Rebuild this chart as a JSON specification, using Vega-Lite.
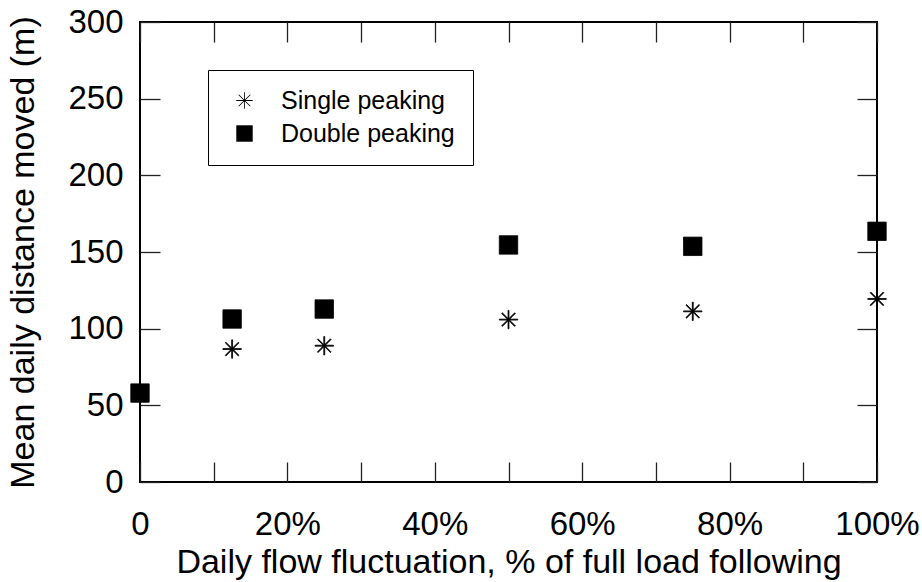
{
  "$schema": "https://vega.github.io/schema/vega-lite/v6.json",
  "width": 737,
  "height": 460,
  "autosize": "none",
  "padding": {"left": 140, "top": 22, "right": 45, "bottom": 100},
  "background": "white",
  "config": {
    "font": "Liberation Sans",
    "view": {"stroke": "black", "strokeWidth": 2},
    "axis": {"domain": false, "grid": false, "tickColor": "#222", "tickWidth": 1.3, "labelColor": "black", "titleColor": "black", "labelFont": "Liberation Sans", "titleFont": "Liberation Sans", "titleFontWeight": "normal", "labelFlush": false, "labelBound": false}
  },
  "data": {
    "values": [
      {"pct": 12.5, "dist": 86.7, "series": "Single peaking"},
      {"pct": 25, "dist": 88.9, "series": "Single peaking"},
      {"pct": 50, "dist": 105.9, "series": "Single peaking"},
      {"pct": 75, "dist": 111.3, "series": "Single peaking"},
      {"pct": 100, "dist": 119.4, "series": "Single peaking"},
      {"pct": 0, "dist": 58, "series": "Double peaking"},
      {"pct": 12.5, "dist": 106.3, "series": "Double peaking"},
      {"pct": 25, "dist": 112.8, "series": "Double peaking"},
      {"pct": 50, "dist": 154.6, "series": "Double peaking"},
      {"pct": 75, "dist": 153.7, "series": "Double peaking"},
      {"pct": 100, "dist": 163.5, "series": "Double peaking"}
    ]
  },
  "resolve": {"axis": {"x": "independent", "y": "independent"}},
  "layer": [
    {
      "mark": {"type": "point", "filled": true, "color": "black", "stroke": "black", "strokeWidth": 0.8, "size": 340, "opacity": 1, "clip": false},
      "encoding": {
        "x": {
          "field": "pct", "type": "quantitative",
          "scale": {"domain": [0, 100], "nice": false},
          "axis": {"orient": "bottom", "values": [0, 10, 20, 30, 40, 50, 60, 70, 80, 90, 100], "tickSize": -20, "labelPadding": 46, "labelFontSize": 33, "labelExpr": "datum.value % 20 == 0 ? (datum.value == 0 ? '0' : datum.value + '%') : ''", "title": "Daily flow fluctuation, % of full load following", "titleFontSize": 34, "titlePadding": 4, "labelOverlap": false}
        },
        "y": {
          "field": "dist", "type": "quantitative",
          "scale": {"domain": [0, 300], "nice": false},
          "axis": {"orient": "left", "values": [0, 50, 100, 150, 200, 250, 300], "tickSize": -20, "labelPadding": 37, "labelFontSize": 33, "title": "Mean daily distance moved (m)", "titleFontSize": 34, "titlePadding": 27, "labelOverlap": false}
        },
        "shape": {
          "field": "series", "type": "nominal",
          "scale": {"domain": ["Single peaking", "Double peaking"], "range": ["M-0.05,-1L0.05,-1L0.05,1L-0.05,1ZM-1,-0.05L1,-0.05L1,0.05L-1,0.05ZM0.6718,-0.7425L0.7425,-0.6718L-0.6718,0.7425L-0.7425,0.6718ZM-0.7425,-0.6718L-0.6718,-0.7425L0.7425,0.6718L0.6718,0.7425Z", "square"]},
          "legend": {
            "title": null, "orient": "none", "legendX": 68, "legendY": 48, "strokeColor": "black", "padding": 18, "symbolOffset": 6, "labelFontSize": 25, "labelOffset": 24, "labelLimit": 400, "rowPadding": 7, "symbolSize": 270, "symbolFillColor": "black", "symbolStrokeColor": "black", "symbolStrokeWidth": 0.8, "labelColor": "black", "fillColor": "white",
            "encode": {"symbols": {"update": {"stroke": {"value": "black"}, "strokeWidth": {"value": 0.8}, "fill": {"value": "black"}, "opacity": {"value": 1}}}}
          }
        }
      }
    },
    {
      "mark": {"type": "point", "opacity": 0},
      "encoding": {
        "x": {
          "field": "pct", "type": "quantitative",
          "scale": {"domain": [0, 100], "nice": false},
          "axis": {"orient": "top", "values": [0, 10, 20, 30, 40, 50, 60, 70, 80, 90, 100], "tickSize": -20, "labels": false, "title": null}
        },
        "y": {
          "field": "dist", "type": "quantitative",
          "scale": {"domain": [0, 300], "nice": false},
          "axis": {"orient": "right", "values": [0, 50, 100, 150, 200, 250, 300], "tickSize": -20, "labels": false, "title": null}
        }
      }
    }
  ]
}
